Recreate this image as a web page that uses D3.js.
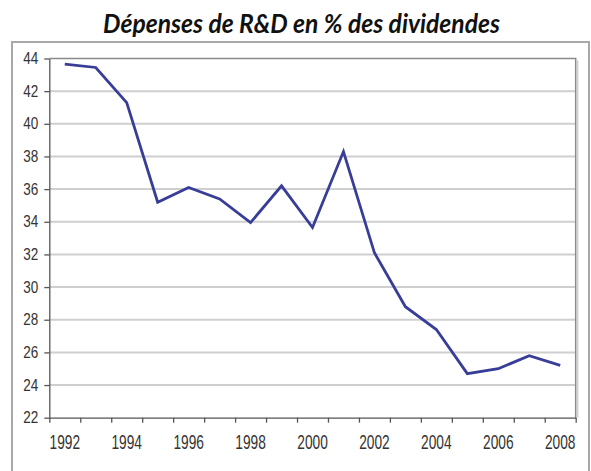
<!DOCTYPE html>
<html>
<head>
<meta charset="utf-8">
<script src="https://cdn.jsdelivr.net/npm/d3@7"></script>
<style>
  html, body { margin: 0; padding: 0; background: #fff; }
  svg { display: block; }
</style>
</head>
<body>
<div id="chart"></div>
<script>
'use strict';

const title = 'Dépenses de R&D en % des dividendes';
const years = [1992, 1993, 1994, 1995, 1996, 1997, 1998, 1999, 2000,
  2001, 2002, 2003, 2004, 2005, 2006, 2007, 2008];
const values = [43.65, 43.45, 41.3, 35.2, 36.1, 35.4, 33.95, 36.2, 33.65,
  38.3, 32.1, 28.8, 27.4, 24.7, 25.0, 25.8, 25.2];
const yTicks = [22, 24, 26, 28, 30, 32, 34, 36, 38, 40, 42, 44];
const xLabels = [1992, 1994, 1996, 1998, 2000, 2002, 2004, 2006, 2008];

const width = 591;
const height = 471;
const plotLeft = 49.3, plotRight = 575.7, plotTop = 58.5, plotBottom = 417.7;

const svg = d3.select('#chart')
  .append('svg')
  .attr('width', width)
  .attr('height', height);

// outer frame
svg.append('rect')
  .attr('x', 12).attr('y', 42)
  .attr('width', 577).attr('height', 460)
  .attr('fill', 'none')
  .attr('stroke', '#a8a8a8')
  .attr('stroke-width', 2);

// title
const titleText = svg.append('text')
  .attr('font-family', 'Lato, "Open Sans", sans-serif')
  .attr('font-weight', 'bold')
  .attr('font-style', 'italic')
  .attr('font-size', 27)
  .attr('fill', '#111')
  .attr('text-anchor', 'middle')
  .text(title);
const tw = titleText.node().getComputedTextLength();
titleText.attr('transform', `translate(301.5,32.5) scale(${397 / tw},1)`);

const x = d3.scaleBand()
  .domain(years)
  .range([plotLeft, plotRight]);

const xEdge = d3.scaleLinear()
  .domain([0, years.length])
  .range([plotLeft, plotRight]);

const y = d3.scaleLinear()
  .domain([22, 44])
  .range([plotBottom, plotTop]);

// gridlines
svg.append('g')
  .selectAll('line')
  .data(yTicks.filter(d => d > 22 && d < 44))
  .enter()
  .append('line')
  .attr('x1', plotLeft).attr('x2', plotRight)
  .attr('y1', d => y(d)).attr('y2', d => y(d))
  .attr('stroke', '#cfcfcf')
  .attr('stroke-width', 2);

// plot border (top / right)
svg.append('path')
  .attr('d', `M${plotLeft},${plotTop}H${plotRight}V${plotBottom}`)
  .attr('fill', 'none')
  .attr('stroke', '#8a8a8a')
  .attr('stroke-width', 1.5);
svg.append('line')
  .attr('x1', plotRight + 2).attr('x2', plotRight + 2)
  .attr('y1', plotTop + 2).attr('y2', plotBottom)
  .attr('stroke', '#d0d0d0')
  .attr('stroke-width', 1.5);

// y axis
const yAxis = svg.append('g')
  .attr('transform', `translate(${plotLeft},0)`)
  .call(d3.axisLeft(y).tickValues(yTicks).tickSize(5).tickPadding(6).tickSizeOuter(0));
yAxis.select('.domain').attr('stroke', '#555').attr('stroke-width', 1.3);
yAxis.selectAll('.tick line').attr('stroke', '#555').attr('stroke-width', 1.3);
yAxis.selectAll('.tick text')
  .attr('font-family', '"Liberation Sans", Arial, sans-serif')
  .attr('font-size', 13.5)
  .attr('fill', '#333')
  .attr('dy', null)
  .attr('transform', 'translate(0,5) scale(1,1.25)');

// x axis ticks at category edges
const xAxis = svg.append('g')
  .attr('transform', `translate(0,${plotBottom})`)
  .call(d3.axisBottom(xEdge)
    .tickValues(d3.range(years.length + 1))
    .tickFormat('')
    .tickSize(5)
    .tickSizeOuter(0));
xAxis.select('.domain').attr('stroke', '#555').attr('stroke-width', 1.3);
xAxis.selectAll('.tick line').attr('stroke', '#555').attr('stroke-width', 1.3);

// x labels centered in categories
const xLab = svg.append('g')
  .attr('transform', `translate(0,${plotBottom})`)
  .call(d3.axisBottom(x).tickValues(xLabels).tickSize(0).tickFormat(d3.format('d')));
xLab.select('.domain').remove();
xLab.selectAll('.tick text')
  .attr('font-family', '"Liberation Sans", Arial, sans-serif')
  .attr('font-size', 14)
  .attr('fill', '#333')
  .attr('y', 0)
  .attr('dy', null)
  .attr('transform', 'translate(0,31) scale(0.98,1.45)');

// line
const line = d3.line()
  .x((d, i) => x(years[i]) + x.bandwidth() / 2)
  .y(d => y(d));

svg.append('path')
  .datum(values)
  .attr('d', line)
  .attr('fill', 'none')
  .attr('stroke', '#383d98')
  .attr('stroke-width', 2.8)
  .attr('stroke-linejoin', 'miter');
</script>
</body>
</html>
